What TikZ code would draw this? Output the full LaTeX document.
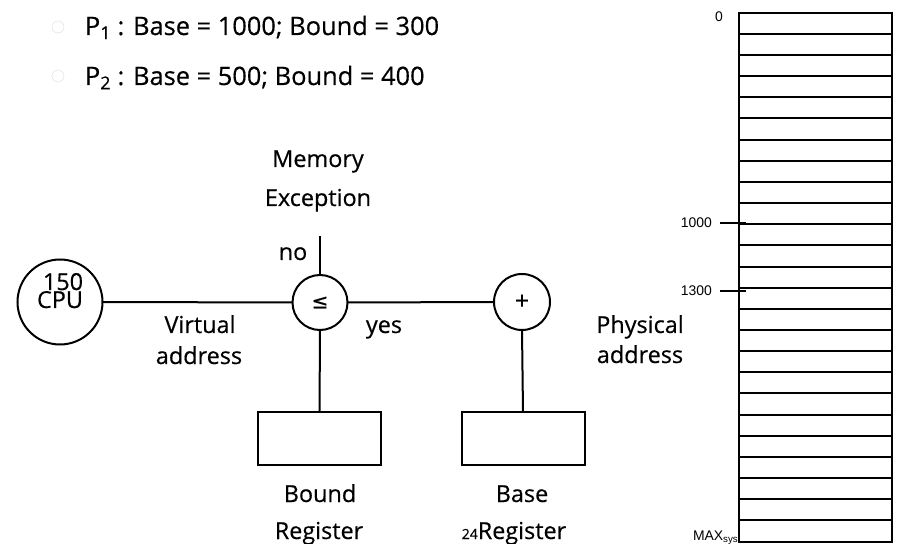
\documentclass[tikz,border=0pt]{standalone}
\usepackage{fontspec}
\setmainfont{Open Sans}[FakeBold=0.4]
\newfontfamily\memfont{Liberation Sans}
\newfontfamily\symfont{DejaVu Sans}[FakeBold=0.6]
\begin{document}
\begin{tikzpicture}[x=1bp,y=-1bp,
  every node/.style={inner sep=0pt, outer sep=0pt},
  wire/.style={line width=2bp, black},
  memline/.style={line width=2bp, black},
  lbl/.style={font=\fontsize{23.5}{23.5}\selectfont, anchor=base},
  toptext/.style={font=\fontsize{25.5}{25.5}\selectfont, anchor=base west},
  opcircle/.style={circle, draw, line width=2bp},
  regbox/.style={draw, line width=2bp, minimum width=123bp, minimum height=53bp},
  memlbl/.style={font=\memfont\fontsize{14}{14}\selectfont},
  bulletmark/.style={circle, draw=gray!25, line width=0.5bp, minimum size=12bp}
]
\useasboundingbox (0,0) rectangle (901,544);

% top lines
\node[bulletmark] (b1) at (58,27) {};
\node[toptext] (t1) at (85,35) {P\textsubscript{1} : Base = 1000; Bound = 300};
\node[bulletmark] (b2) at (58,76) {};
\node[toptext] (t2) at (85,85) {P\textsubscript{2} : Base = 500; Bound = 400};

% CPU
\node[opcircle, minimum size=85bp] (cpu) at (60,302) {};
\node[lbl] (n150) at (63,290) {150};
\node[lbl] (cpuname) at (60,308) {CPU};

% comparators
\node[opcircle, minimum size=55bp] (le) at (320,302.5) {\symfont\fontsize{20}{20}\selectfont ≤};
\node[opcircle, minimum size=56bp] (plus) at (522,302) {\fontsize{25}{25}\selectfont +};

% registers
\node[regbox] (bound) at (319.5,438.5) {};
\node[regbox] (base) at (523,438.5) {};

% connectors
\coordinate (exc) at (320,236);
\draw[wire] (exc) -- (le.north);
\draw[wire] (cpu.east) -- (le.west);
\draw[wire] (le.east) -- (plus.west);
\draw[wire] (le.south) -- (bound.north);
\draw[wire] (plus.south) -- (base.north);

% labels
\node[lbl] (mem1) at (318,167) {Memory};
\node[lbl] (mem2) at (318,206) {Exception};
\node[lbl] (no) at (293,260) {no};
\node[lbl] (va1) at (200,333) {Virtual};
\node[lbl] (va2) at (199,364) {address};
\node[lbl] (yes) at (384,333) {yes};
\node[lbl] (pa1) at (640,333) {Physical};
\node[lbl] (pa2) at (640,363) {address};
\node[lbl] (br1) at (320,502) {Bound};
\node[lbl] (br2) at (319,539) {Register};
\node[lbl] (ba1) at (522,502) {Base};
\node[lbl] (ba2) at (522,539) {Register};
\node[font=\fontsize{14}{14}\selectfont, anchor=base east] (pg) at (ba2.base west) {24};

% memory
\draw[memline] (738.5,12.7) rectangle (892,541.5);
\foreach \i in {1,...,24} {
  \draw[memline] (738.5,{12.7+\i*21.152}) -- (892,{12.7+\i*21.152});
}
\coordinate (t1a) at (720,223);
\coordinate (t1b) at (746,223);
\coordinate (t2a) at (720,291);
\coordinate (t2b) at (746,291);
\draw[memline] (t1a) -- (t1b);
\draw[memline] (t2a) -- (t2b);
\node[font=\memfont\fontsize{14}{14}\selectfont] (m0) at (719,16.5) {0};
\node[memlbl, anchor=east] (m1000) at (712,223) {1000};
\node[memlbl, anchor=east] (m1300) at (712,291) {1300};
\node[memlbl, anchor=base west] (mmax) at (693,540) {MAX\textsubscript{sys}};
\end{tikzpicture}
\end{document}
